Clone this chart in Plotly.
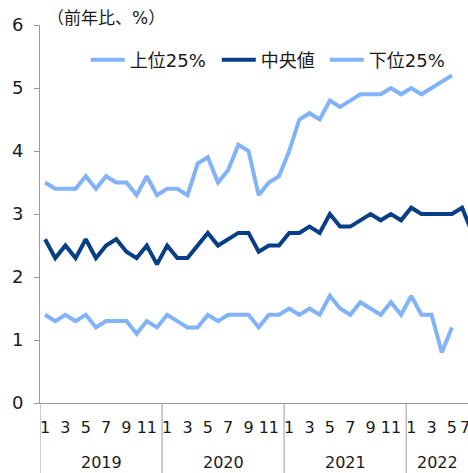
import plotly.graph_objects as go

years = [2019, 2020, 2021, 2022]
months_per_year = 12

upper25 = [3.5, 3.4, 3.4, 3.4, 3.6, 3.4, 3.6, 3.5, 3.5, 3.3, 3.6, 3.3,
           3.4, 3.4, 3.3, 3.8, 3.9, 3.5, 3.7, 4.1, 4.0, 3.3, 3.5, 3.6,
           4.0, 4.5, 4.6, 4.5, 4.8, 4.7, 4.8, 4.9, 4.9, 4.9, 5.0, 4.9,
           5.0, 4.9, 5.0, 5.1, 5.2]
median = [2.6, 2.3, 2.5, 2.3, 2.6, 2.3, 2.5, 2.6, 2.4, 2.3, 2.5, 2.2,
          2.5, 2.3, 2.3, 2.5, 2.7, 2.5, 2.6, 2.7, 2.7, 2.4, 2.5, 2.5,
          2.7, 2.7, 2.8, 2.7, 3.0, 2.8, 2.8, 2.9, 3.0, 2.9, 3.0, 2.9,
          3.1, 3.0, 3.0, 3.0, 3.0, 3.1, 2.7]
lower25 = [1.4, 1.3, 1.4, 1.3, 1.4, 1.2, 1.3, 1.3, 1.3, 1.1, 1.3, 1.2,
           1.4, 1.3, 1.2, 1.2, 1.4, 1.3, 1.4, 1.4, 1.4, 1.2, 1.4, 1.4,
           1.5, 1.4, 1.5, 1.4, 1.7, 1.5, 1.4, 1.6, 1.5, 1.4, 1.6, 1.4,
           1.7, 1.4, 1.4, 0.8, 1.2]

names = ["上位25%", "中央値", "下位25%"]
light = "#82B2F8"
dark = "#063F86"
txt = "#1a1a1a"
grey = "#9a9a9a"
font_fam = "DejaVu Sans, Noto Sans CJK JP"

x_min, x_max = -0.5, 41.58
month_labels_vals = [i for i in range(0, 43) if i % 2 == 0]
month_labels_text = [str(i % 12 + 1) for i in month_labels_vals]

fig = go.Figure()
legend_widths = [82, 59, 74]
for (name, vals, col), lw in zip([(names[0], upper25, light), (names[1], median, dark),
                                  (names[2], lower25, light)], legend_widths):
    fig.add_trace(go.Scatter(x=list(range(len(vals))), y=vals, mode="lines", name=name,
                             line=dict(color=col, width=4), legendwidth=lw))

shown_vals = [v for v in month_labels_vals if v <= x_max]
shown_text = [month_labels_text[k] for k, v in enumerate(month_labels_vals) if v <= x_max]

fig.update_xaxes(range=[x_min, x_max], showline=True, linecolor=grey, linewidth=1,
                 showgrid=False, zeroline=False, tickmode="array", tickvals=shown_vals,
                 ticktext=shown_text, ticks="", tickfont=dict(size=16, color=txt, family=font_fam),
                 ticklabelstandoff=10, automargin=False)
fig.update_yaxes(range=[0, 6], dtick=1, showline=True, linecolor=grey, linewidth=1,
                 showgrid=False, zeroline=False, ticks="outside", ticklen=5, tickcolor=grey,
                 tickfont=dict(size=18, color=txt, family=font_fam), automargin=False,
                 ticklabelstandoff=7)

ph = 473 - 25 - 70
bottom_paper = -70 / ph
# year dividers and labels (label centred on the visible part of each year)
for k in range(len(years) + 1):
    xv = x_min + k * months_per_year
    fig.add_shape(type="line", xref="x", yref="paper", x0=xv, x1=xv, y0=0, y1=bottom_paper,
                  line=dict(color=grey, width=1))
    if k < len(years):
        x_end = min(xv + months_per_year, x_max)
        fig.add_annotation(xref="x", yref="paper", x=(xv + x_end) / 2,
                           y=-(463 - 403) / ph, text=str(years[k]), showarrow=False,
                           font=dict(size=16, color=txt, family=font_fam), yanchor="middle")

# cut-off tick label beyond visible range
for k, v in enumerate(month_labels_vals):
    if v > x_max:
        fig.add_annotation(xref="paper", yref="paper", x=(v - x_min) / (x_max - x_min),
                           y=-(428 - 403) / ph, text=month_labels_text[k], showarrow=False,
                           font=dict(size=16, color=txt, family=font_fam), yanchor="middle")

fig.add_annotation(xref="paper", yref="paper", x=5 / 428, y=1 + 7 / ph, text="（前年比、%）",
                   showarrow=False, xanchor="left", yanchor="middle",
                   font=dict(size=17, color=txt, family=font_fam))

fig.update_layout(width=468, height=473, margin=dict(l=40, r=0, t=25, b=70, autoexpand=False),
                  plot_bgcolor="white", paper_bgcolor="white",
                  legend=dict(orientation="h", x=0.107, y=1 - 35 / ph, xanchor="left", yanchor="middle",
                              font=dict(size=18, color=txt, family=font_fam),
                              bgcolor="rgba(0,0,0,0)", itemwidth=34, tracegroupgap=0),
                  showlegend=True)

fig.write_html("out.html", config={"displayModeBar": False},
               post_script="document.body.style.margin='0';document.body.style.overflow='hidden';")
